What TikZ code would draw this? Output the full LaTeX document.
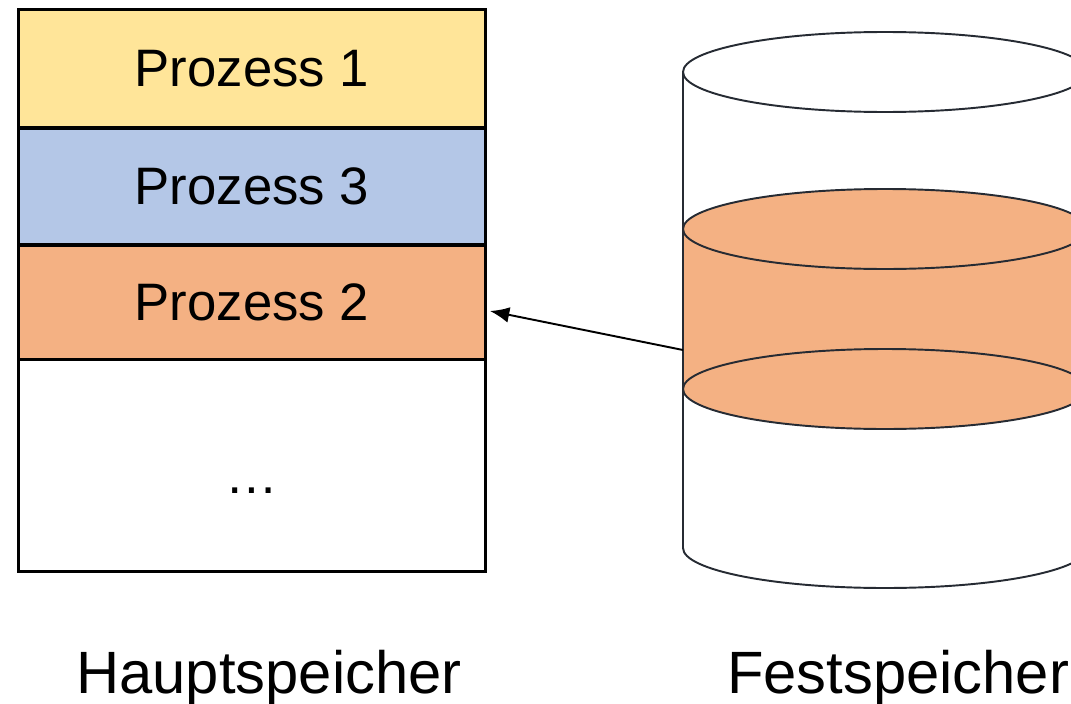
\documentclass[tikz,border=0pt]{standalone}
\usepackage{fontspec}
\setmainfont{Liberation Sans}
\usetikzlibrary{arrows.meta}

\definecolor{gelb}{HTML}{FFE599}
\definecolor{blau}{HTML}{B4C7E7}
\definecolor{lachs}{HTML}{F4B183}
\definecolor{rand}{HTML}{262B33}

\begin{document}
\begin{tikzpicture}[x = 0.02cm, y = -0.02cm,
        zeile/.style = {draw, line width = 1.7pt, inner sep = 0, outer sep = 0,
            minimum width = 9.36cm, font = \fontsize{30}{36}\selectfont},
        zylinder/.style = {draw = rand, line width = 1.1pt},
        beschriftung/.style = {anchor = base, font = \fontsize{34}{40}\selectfont}]

            \useasboundingbox (0, 0) rectangle (1071, 703);
            \clip (0, 0) rectangle (1071, 703);

            % Hauptspeicher
            \node (p1) at (252, 68.5) [zeile, fill = gelb, minimum height = 2.38cm] {Prozess 1};
            \node (p3) at (252, 186.5) [zeile, fill = blau, minimum height = 2.34cm] {Prozess 3};
            \node (p2) at (252, 302) [zeile, fill = lachs, minimum height = 2.28cm] {Prozess 2};
            \node (rest) at (252, 465.5) [zeile, fill = white, minimum height = 4.26cm] {\raisebox{-1.1cm}{…}};

            % Festspeicher
            \fill[lachs] (683, 229) rectangle (1087, 389);
            \draw[zylinder, fill = lachs] (885, 389) ellipse [x radius = 202, y radius = 40];
            \draw[zylinder, fill = lachs] (885, 229) ellipse [x radius = 202, y radius = 40];
            \draw[zylinder] (683, 548) arc [start angle = 180, end angle = 0, x radius = 202, y radius = 40];
            \draw[zylinder] (683, 72) -- (683, 548);
            \draw[zylinder] (1087, 72) -- (1087, 548);
            \draw[zylinder, fill = white] (885, 72) ellipse [x radius = 202, y radius = 40];

            \coordinate (cyl) at (683, 350);
            \draw[-{Latex[length = 11pt, width = 9pt]}, line width = 1.1pt] (cyl) -- ([shift = {(4, 9)}]p2.east);

            \node (haupt) at (269, 693) [beschriftung] {Hauptspeicher};
            \node (fest) at (898, 693) [beschriftung] {Festspeicher};
        \end{tikzpicture}
\end{document}
